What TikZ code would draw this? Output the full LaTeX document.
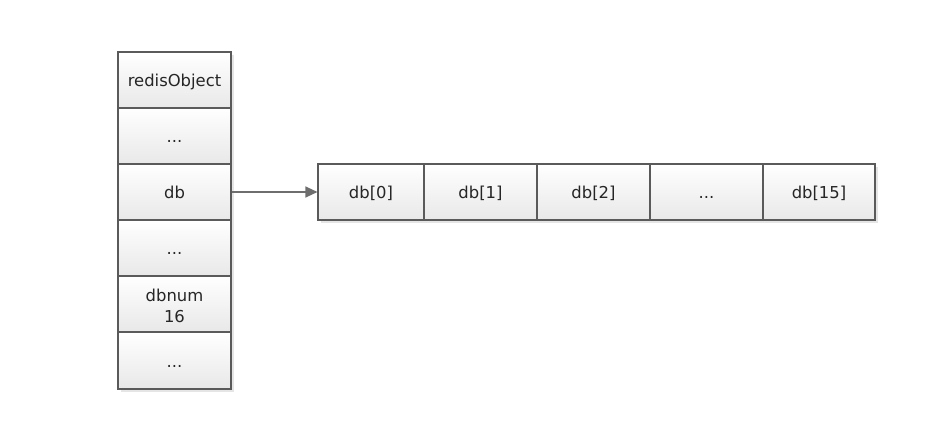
\documentclass[tikz,border=0pt]{standalone}
\usepackage{fontspec}
\setmainfont{DejaVu Sans}
\usetikzlibrary{arrows.meta,shadows}
\definecolor{edgegray}{HTML}{5A5A5A}
\definecolor{arrowgray}{HTML}{6E6E6E}
\tikzset{
  cell/.style={draw=edgegray, line width=1.1pt, rectangle, inner sep=0pt,
    top color=white, bottom color=black!9,
    font=\fontsize{16.4}{21}\selectfont, text=black!85, align=center,
    text height=14pt, text depth=1pt},
  colcell/.style={cell, minimum width=113pt, minimum height=56pt},
  link/.style={draw=arrowgray, line width=1.1pt, -{Triangle[length=12pt,width=11pt,fill=arrowgray]}}
}
\begin{document}
\begin{tikzpicture}[x=1pt,y=-1pt]
\useasboundingbox (0,0) rectangle (946,441);
% shadows
\fill[black!10] (121,55) rectangle (234,392);
\fill[black!10] (321,167) rectangle (878,223);
% left column
\node[colcell] (obj)  at (174.5,80)  {redisObject};
\node[colcell] (d1)   at (174.5,136) {...};
\node[colcell] (db)   at (174.5,192) {db};
\node[colcell] (d2)   at (174.5,248) {...};
\node[colcell, text height=37pt, text depth=0pt] (num)  at (174.5,304) {dbnum\\16};
\node[colcell, minimum height=57pt] (d3) at (174.5,360.5) {...};
% right row
\node[cell, minimum width=106pt, minimum height=56pt] (a0) at (371,192)   {db[0]};
\node[cell, minimum width=113pt, minimum height=56pt] (a1) at (480.5,192) {db[1]};
\node[cell, minimum width=113pt, minimum height=56pt] (a2) at (593.5,192) {db[2]};
\node[cell, minimum width=113pt, minimum height=56pt] (a3) at (706.5,192) {...};
\node[cell, minimum width=112pt, minimum height=56pt] (a4) at (819,192)   {db[15]};
% arrow
\draw[link] (db.east) -- (a0.west);
\end{tikzpicture}
\end{document}
